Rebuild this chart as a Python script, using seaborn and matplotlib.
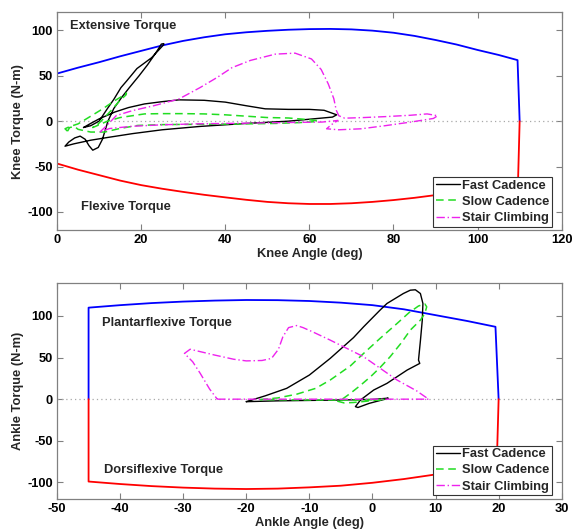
import matplotlib
matplotlib.use("Agg")
import matplotlib.pyplot as plt
import seaborn as sns
from matplotlib.lines import Line2D

# ---------------- Knee data ----------------
knee_ext_x = [0, 5, 10, 15, 20, 25, 30, 35, 40, 45, 50, 55, 60, 65, 70, 75, 80, 85, 90, 95, 100, 105, 109.5, 110]
knee_ext_y = [52.5, 59, 65, 71.5, 77.5, 83.5, 88.5, 92.5, 95.8, 98, 99.6, 100.8, 101.5, 101.7, 101.2, 99.8,
              97.5, 94, 89.5, 84.5, 78.5, 73, 67.3, 0]
knee_flx_x = [0, 5, 10, 15, 20, 25, 30, 35, 40, 45, 50, 55, 60, 65, 70, 75, 80, 85, 90, 95, 100, 105, 109.6, 110]
knee_flx_y = [-46.7, -53.5, -59.5, -65.5, -70.5, -74.5, -78, -81.2, -84, -86.7, -89, -90.5, -91.3, -91.3,
              -90.5, -89, -87, -84.5, -81.5, -78.5, -75, -72, -69, 0]

fast_knee_x = [6.3, 8, 10, 13.7, 17, 20.8, 25, 29, 35, 40, 45, 49.5, 55, 60, 63.5, 66.5, 65.5, 62, 55, 45,
               34, 25, 18, 12, 8, 4, 1.9, 2.8, 4.2, 5.5, 6.7, 7.6, 8.5, 9.8, 10.8, 12.1, 13.5, 15.5, 17.2, 19.5,
               21.5, 23, 24, 24.8, 25.4, 25.3, 24.5, 22.5, 19, 16.5, 15.2, 13.5, 12, 10, 8, 6.3]
fast_knee_y = [-7, -2.5, 2.5, 10, 15, 19, 21.5, 23.5, 23, 21, 17, 13.6, 13, 13, 12, 7, 4.5, 3, 0, -2.5,
               -5.8, -9.5, -13.7, -18, -21, -25, -27.6, -23, -18.5, -16.5, -20, -27, -32, -29, -20, 0, 14, 27, 37, 50,
               62, 72, 79, 85, 85.5, 84, 80, 70, 58, 44, 37, 24, 14, 0, -5, -7]

slow_knee_x = [2.5, 1.9, 3, 5, 8.2, 11, 13.5, 15.3, 16.5, 16.4, 14.8, 12.9, 11.3, 9.8, 8.5,
               10, 12, 15, 20.8, 25, 30, 35, 40, 45, 50, 55, 59, 62, 61.5, 58, 52, 45, 35, 25, 19.2,
               15, 11.3, 8, 5, 4.2, 3, 2.5]
slow_knee_y = [-11, -8.4, -6, -3, 6, 14, 22, 27, 31, 29, 22, 12, 4, -3, -7,
               -4, 0, 4, 8, 8.3, 8.3, 8, 7, 5.5, 4, 3.5, 2, 0.5, -0.5, -1.5, -2.5, -3, -3.4, -3.8, -4.7,
               -8, -12, -12, -9, -6, -7, -11]

stair_knee_x = [10.2, 12, 14.1, 18, 23, 29, 34, 38, 41.6, 46, 51.9, 56.6, 60.5, 62.8, 64.5, 65.8, 66.4, 67, 68.4, 73,
                78, 84, 88, 90.5, 89.5, 84.1, 78, 72.3, 67, 64.1, 65.2, 66.8, 63, 55, 45, 33.8, 25, 18, 12.5, 10.2]
stair_knee_y = [-12, -4, 6.2, 11.7, 17, 24.5, 37, 48, 59, 67, 73.9, 75, 68.6, 57, 41, 25, 12, 6, 3.3, 4,
                5, 6.5, 8, 6, 3, -1, -5, -8.4, -9.5, -8.4, -4, 0.8, -1, -1.5, -2.2, -2.9, -4, -5.6, -8.1, -12]

# ---------------- Ankle data ----------------
ankle_pf_x = [-45, -45, -40, -35, -30, -25, -20, -15, -10, -5, 0, 5, 10, 15, 19.5, 20]
ankle_pf_y = [0, 110, 113, 115.5, 117.3, 118.5, 119.2, 119, 118, 116, 113, 108, 101, 94, 87, 0]
ankle_df_x = [-45, -45, -40, -35, -30, -25, -20, -15, -10, -5, 0, 5, 10, 15, 19.7, 20]
ankle_df_y = [0, -99, -102, -104.5, -106.3, -107.5, -108, -107.5, -106, -104, -100.5, -96, -90.5, -85, -80, 0]

fast_ankle_x = [-20, -17, -13.6, -10, -6.7, -3, -1.4, 1.2, 2.3, 4.9, 6, 6.8, 7.6, 8, 7.9, 7.6, 7.3, 7.5, 5.5, 3.9,
                2.3, 0.2, -1.9, -2.7, -2.3, -0.5, 1.5, 2.5, 0, -5, -10, -15, -20]
fast_ankle_y = [-3, 4, 13, 29, 49, 74, 87, 107, 115, 127, 131, 131.5, 127, 115, 95, 70, 47, 43, 35, 27,
                19, 11, -1, -9, -10, -5, -1, 1.2, -0.3, -1, -1.5, -2, -3]

slow_ankle_x = [-17.8, -15, -12, -9, -6.7, -3.5, -1.4, 1.2, 3.9, 5.8, 7.3, 8.3, 8.6, 8.3, 7.6, 6, 4.5, 2.8, 1.2, -0.3,
                -2, -3.5, -4.6, -5.5, -4.5, -3, -1, 1, 2, -2, -8, -14, -17.8]
slow_ankle_y = [-0.5, 1.5, 6, 13, 23, 40, 55, 73, 91, 104, 112, 114.5, 111, 103, 95, 83, 67, 51, 38, 27,
                16, 7, 1, -2.5, -4.5, -4, -2.5, -0.8, -0.3, -1, -1, -0.8, -0.5]

stair_ankle_x = [-24.6, -20, -15, -10, -5, 0, 5, 8.9, 7, 3.9, -1.4, -6.7, -9.5, -11, -12, -13.3, -14.2, -14.9, -16,
                 -17.5, -20, -22, -25, -28.9, -29.8, -28.5, -27.3, -25.8, -24.6]
stair_ankle_y = [0, 0, 0, 0, 0, 0, 0, 0, 10, 23, 51, 71, 81, 86, 88.5, 86, 75, 60, 49,
                 46.5, 46, 48, 53, 60, 55, 45, 31, 12, 0]

series_labels = ["Fast Cadence", "Slow Cadence", "Stair Climbing"]

# ---------------- Style ----------------
sns.set_theme(style="ticks")
plt.rcParams["font.family"] = ["Liberation Sans", "DejaVu Sans"]
plt.rcParams["font.weight"] = "bold"
FS = 9.3
GRAY = "#808080"

fig = plt.figure(figsize=(5.72, 5.29), dpi=100)
fig.patch.set_facecolor("white")

ax1 = fig.add_axes([0.0997, 0.5652, 0.8823, 0.4115])
ax2 = fig.add_axes([0.0997, 0.0567, 0.8823, 0.4089])

c_fast, c_slow, c_stair = "black", "#22dd22", "#ee22ee"
st_fast = dict(color=c_fast, lw=1.0, linestyle="-")
st_slow = dict(color=c_slow, lw=1.1, dashes=(5, 3))
st_stair = dict(color=c_stair, lw=1.0, dashes=(6, 2, 1, 2))


def draw(ax, x, y, **kw):
    sns.lineplot(x=x, y=y, sort=False, estimator=None, ax=ax, legend=False, **kw)


def style_axes(ax, xlim, ylim, xticks, yticks, xlabel, ylabel):
    ax.set_xlim(*xlim)
    ax.set_ylim(*ylim)
    ax.set_xticks(xticks)
    ax.set_yticks(yticks)
    ax.set_xticklabels([f"{t:g}" for t in xticks], fontsize=FS, fontweight="bold")
    ax.set_yticklabels([f"{t:g}" for t in yticks], fontsize=FS, fontweight="bold")
    ax.tick_params(direction="in", length=4, width=0.8, color=GRAY, top=True, right=True,
                   labelcolor="black", pad=3)
    for s in ax.spines.values():
        s.set_color(GRAY)
        s.set_linewidth(0.9)
        s.set_visible(True)
    ax.set_xlabel(xlabel, fontsize=FS, fontweight="bold", labelpad=1)
    ax.set_ylabel(ylabel, fontsize=FS, fontweight="bold", labelpad=2)
    ax.axhline(0, color="#a8a8a8", lw=0.9, linestyle=(0, (1, 2.5)), zorder=1)
    ax.set_facecolor("white")


def add_legend(ax, anchor):
    handles = [Line2D([], [], **st_fast), Line2D([], [], **st_slow), Line2D([], [], **st_stair)]
    leg = ax.legend(handles, series_labels, loc="lower right", bbox_to_anchor=anchor,
                    borderaxespad=0, fancybox=False, framealpha=1, edgecolor="#333333",
                    prop={"size": FS, "weight": "bold"}, handlelength=1.9, handletextpad=0.1,
                    labelspacing=0.32, borderpad=0.2)
    leg.get_frame().set_linewidth(0.8)
    leg.set_zorder(10)


# ---- Knee ----
draw(ax1, knee_ext_x, knee_ext_y, color="#0000ff", lw=1.3)
draw(ax1, knee_flx_x, knee_flx_y, color="#ff0000", lw=1.3)
draw(ax1, fast_knee_x, fast_knee_y, **st_fast)
draw(ax1, slow_knee_x, slow_knee_y, **st_slow)
draw(ax1, stair_knee_x, stair_knee_y, **st_stair)
style_axes(ax1, (0, 120), (-120, 120), [0, 20, 40, 60, 80, 100, 120], [-100, -50, 0, 50, 100],
           "Knee Angle (deg)", "Knee Torque (N-m)")
ax1.text(3.1, 105, "Extensive Torque", fontsize=FS, fontweight="bold", va="center", ha="left")
ax1.text(5.7, -95, "Flexive Torque", fontsize=FS, fontweight="bold", va="center", ha="left")
add_legend(ax1, (0.98, 0.015))

# ---- Ankle ----
draw(ax2, ankle_pf_x, ankle_pf_y, color="#0000ff", lw=1.3)
draw(ax2, ankle_df_x, ankle_df_y, color="#ff0000", lw=1.3)
draw(ax2, fast_ankle_x, fast_ankle_y, **st_fast)
draw(ax2, slow_ankle_x, slow_ankle_y, **st_slow)
draw(ax2, stair_ankle_x, stair_ankle_y, **st_stair)
style_axes(ax2, (-50, 30), (-120, 140), [-50, -40, -30, -20, -10, 0, 10, 20, 30], [-100, -50, 0, 50, 100],
           "Ankle Angle (deg)", "Ankle Torque (N-m)")
ax2.text(-42.9, 91, "Plantarflexive Torque", fontsize=FS, fontweight="bold", va="center", ha="left")
ax2.text(-42.6, -84.7, "Dorsiflexive Torque", fontsize=FS, fontweight="bold", va="center", ha="left")
add_legend(ax2, (0.98, 0.018))

fig.savefig("out.png", dpi=100, facecolor="white")
